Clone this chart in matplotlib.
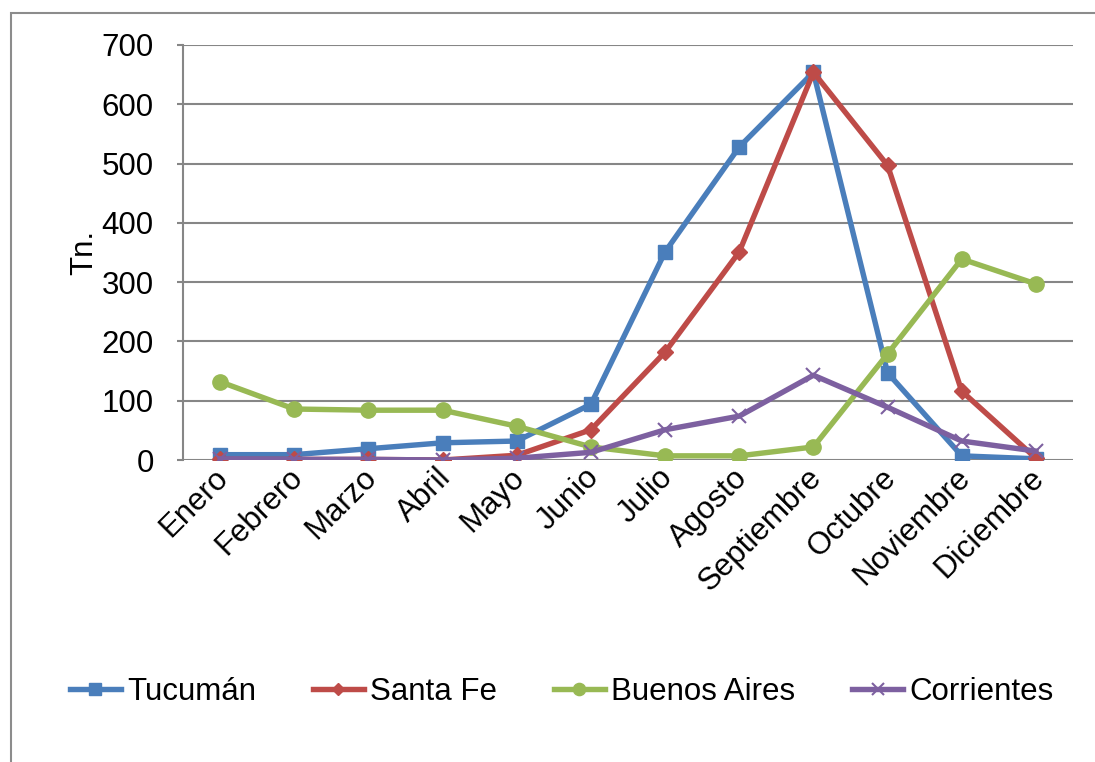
import matplotlib.pyplot as plt
from matplotlib.patches import Rectangle
from matplotlib.transforms import ScaledTranslation

plt.rcParams["font.family"] = ["Liberation Sans", "DejaVu Sans"]

meses = ["Enero", "Febrero", "Marzo", "Abril", "Mayo", "Junio", "Julio",
         "Agosto", "Septiembre", "Octubre", "Noviembre", "Diciembre"]
tucuman = [9, 9, 19, 29, 32, 94, 351, 528, 654, 147, 7, 2]
santa_fe = [1, 1, 1, 0, 8, 51, 182, 351, 654, 497, 116, 3]
buenos_aires = [132, 86, 84, 84, 57, 22, 7, 7, 22, 179, 339, 297]
corrientes = [2, 1, 1, 0, 3, 13, 51, 74, 143, 89, 32, 15]
y_ticks = [0, 100, 200, 300, 400, 500, 600, 700]

fig = plt.figure(figsize=(10.95, 7.62), dpi=100)
ax = fig.add_axes([183 / 1095, 1 - 460 / 762, 890 / 1095, 415 / 762])

# marco exterior del gráfico
fig.patches.append(Rectangle((11 / 1095, -0.05), 1.1, 1 - 13 / 762 + 0.05,
                             transform=fig.transFigure, fill=False,
                             edgecolor="#8c8c8c", linewidth=1.5))

x = list(range(len(meses)))
lw = 3.9
ax.plot(x, tucuman, color="#4A7EBB", lw=lw, marker="s", ms=10, label="Tucumán")
ax.plot(x, santa_fe, color="#BE4B48", lw=lw, marker="D", ms=8, label="Santa Fe")
ax.plot(x, buenos_aires, color="#98B954", lw=lw, marker="o", ms=11, label="Buenos Aires")
ax.plot(x, corrientes, color="#7D60A0", lw=lw, marker="x", ms=10, mew=1.5, label="Corrientes")

ax.set_xlim(-0.5, len(meses) - 0.5)
ax.set_ylim(0, 700)
ax.set_yticks(y_ticks)
ax.tick_params(axis="y", labelsize=22.5, length=4, width=1.5, color="#868686", pad=17)
ax.tick_params(axis="x", length=0, pad=4)
ax.set_xticks(x)
ax.set_xticklabels(meses, fontsize=22.5, rotation=45, ha="right", va="top",
                   rotation_mode="anchor")
desplaza = ScaledTranslation(-7 / 100, 3 / 100, fig.dpi_scale_trans)
for lab in ax.get_xticklabels():
    lab.set_transform(lab.get_transform() + desplaza)
ax.grid(axis="y", color="#868686", lw=1.5)
ax.set_axisbelow(True)
for s in ["top", "right", "bottom"]:
    ax.spines[s].set_visible(False)
ax.spines["left"].set_color("#868686")
ax.spines["left"].set_linewidth(1.5)
ax.set_ylabel("Tn.", fontsize=22.5, labelpad=2)

fig.legend(loc="center", bbox_to_anchor=(0.513, 1 - 692 / 762), ncol=4,
           frameon=False, fontsize=22.5, handlelength=1.65, handletextpad=0.2,
           columnspacing=1.8, markerscale=0.8)

fig.savefig("out.png", dpi=100)
